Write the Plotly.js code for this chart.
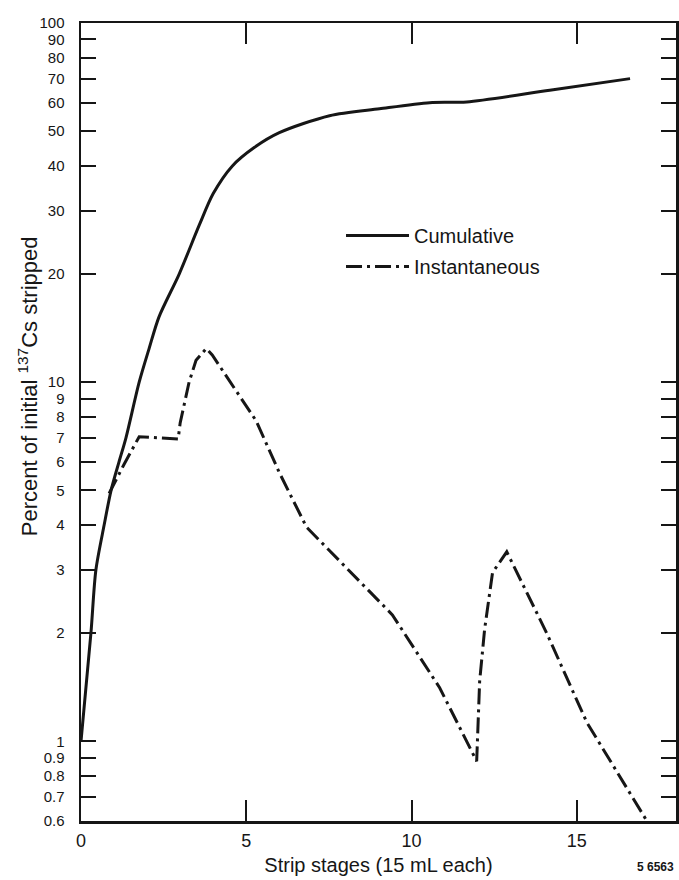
<!DOCTYPE html>
<html>
<head>
<meta charset="utf-8">
<script src="https://cdn.plot.ly/plotly-3.0.1.min.js"></script>
<style>html,body{margin:0;padding:0;background:#fff;}#chart{width:679px;height:880px;}</style>
</head>
<body>
<div id="chart"></div>
<script>
// Cumulative curve (strip stage, percent stripped)
const stageCum = [0, 0.30, 0.45, 0.70, 0.91, 1.15, 1.36, 1.76, 2.06, 2.36, 2.97, 3.58, 4.0, 4.58, 5.24, 6.00, 7.52, 9.03, 10.55, 11.67, 14.18, 16.61];
const cumulative = [1.0, 2, 3, 4, 5, 6, 7, 10, 12.4, 15.2, 20, 27.4, 33.5, 40, 45, 49.5, 55.2, 57.7, 60, 60.3, 65, 70];

// Instantaneous curve
const stageInst = [0.85, 1.30, 1.76, 2.94, 3.0, 3.15, 3.27, 3.48, 3.79, 3.97, 5.30, 6.0, 6.82, 9.42, 10.85, 11.97, 12.06, 12.21, 12.45, 12.88, 14.09, 15.30, 17.12];
const instantaneous = [4.9, 5.9, 7.05, 6.95, 7.7, 9.0, 10, 11.5, 12.4, 11.9, 7.8, 5.6, 3.95, 2.25, 1.41, 0.88, 1.47, 2.05, 2.95, 3.37, 2.0, 1.13, 0.6];

const yTickVals = [0.6, 0.7, 0.8, 0.9, 1, 2, 3, 4, 5, 6, 7, 8, 9, 10, 20, 30, 40, 50, 60, 70, 80, 90, 100];
const yTickText = ["0.6", "0.7", "0.8", "0.9", "1", "2", "3", "4", "5", "6", "7", "8", "9", "10", "20", "30", "40", "50", "60", "70", "80", "90", "100"];
const xTickVals = [0, 5, 10, 15];
const xTickText = ["0", "5", "10", "15"];

const ink = "#161616";
const font = "'Liberation Sans', Arial, Helvetica, sans-serif";

const traces = [
  {
    x: stageCum, y: cumulative, name: "Cumulative", mode: "lines",
    legendgroup: "a",
    line: {color: ink, width: 3, shape: "spline", smoothing: 0.8}
  },
  {
    x: stageInst, y: instantaneous, name: "Instantaneous", mode: "lines",
    legendgroup: "b",
    line: {color: ink, width: 3, dash: "16px,5px,3px,5px"}
  }
];

const layout = {
  width: 679, height: 880,
  margin: {l: 81, r: 3, t: 23, b: 59},
  paper_bgcolor: "#ffffff", plot_bgcolor: "#ffffff",
  font: {family: font, color: ink, size: 17},
  showlegend: true,
  legend: {
    x: 0.437, y: 0.758, xanchor: "left", yanchor: "top",
    itemwidth: 63,
    font: {family: font, size: 20, color: ink},
    bgcolor: "rgba(0,0,0,0)", tracegroupgap: 2, traceorder: "grouped"
  },
  xaxis: {
    range: [0, 18], tickmode: "array", tickvals: xTickVals, ticktext: xTickText,
    ticks: "inside", ticklen: 21, tickwidth: 2, tickcolor: ink,
    showline: true, linewidth: 2.5, linecolor: ink, mirror: "ticks",
    showgrid: false, zeroline: false, ticklabelstandoff: 2,
    tickfont: {family: font, size: 18, color: ink},
    title: {text: "Strip stages (15 mL each)", font: {family: font, size: 20, color: ink}, standoff: 8}
  },
  yaxis: {
    type: "log", range: [Math.log10(0.6), 2],
    tickmode: "array", tickvals: yTickVals, ticktext: yTickText,
    ticks: "inside", ticklen: 15, tickwidth: 2, tickcolor: ink,
    showline: true, linewidth: 2.5, linecolor: ink, mirror: "ticks",
    showgrid: false, zeroline: false, ticklabelstandoff: 11,
    tickfont: {family: font, size: 15, color: ink}
  },
  annotations: [
    {text: "Percent of initial <sup>137</sup>Cs stripped", textangle: -90,
     xref: "paper", yref: "paper", x: -0.089, y: 0.545, xanchor: "center", yanchor: "middle",
     showarrow: false, font: {family: font, size: 22, color: ink}},
    {text: "<b>5 6563</b>", xref: "paper", yref: "paper", x: 1, y: -0.058, xanchor: "right", yanchor: "middle",
     showarrow: false, font: {family: font, size: 12, color: ink}}
  ]
};

Plotly.newPlot("chart", traces, layout, {displayModeBar: false, staticPlot: true});
</script>
</body>
</html>
